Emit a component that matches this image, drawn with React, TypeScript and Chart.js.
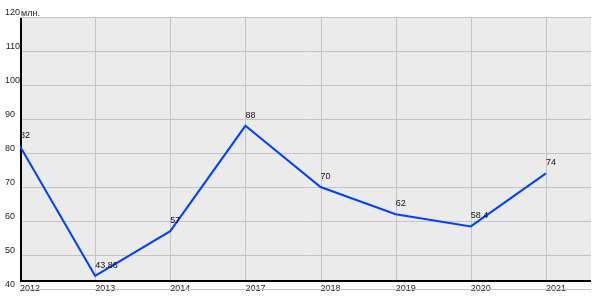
import React, { useEffect, useRef } from "react";
import { Chart, registerables } from "chart.js";

Chart.register(...registerables);

const CATEGORIES = ["2012", "2013", "2014", "2017", "2018", "2019", "2020", "2021"];
const VALUES = [82, 43.86, 57, 88, 70, 62, 58.4, 74];
const Y_MIN = 40;
const Y_MAX = 120;
const Y_STEP = 10;
const X_MAX = 7.6;
const UNIT_LABEL = "млн.";

const FONT_FAMILY = "'Liberation Sans', Arial, sans-serif";
const BG = "#ebebeb";
const GRID = "#c4c4c4";
const LINE = "rgb(0, 64, 255)";

const framePlugin = {
  id: "frame",
  beforeDatasetsDraw(chart: any) {
    const { ctx, chartArea, scales } = chart;
    const { left, right, top, bottom } = chartArea;
    const plotBottom = bottom - 9;
    ctx.save();
    ctx.fillStyle = BG;
    ctx.fillRect(left, top, right - left, plotBottom - top);
    ctx.strokeStyle = GRID;
    ctx.lineWidth = 1;
    for (let v = Y_MIN; v <= Y_MAX; v += Y_STEP) {
      const y = Math.round(scales.y.getPixelForValue(v)) + 0.5;
      ctx.beginPath();
      ctx.moveTo(left, y);
      ctx.lineTo(right, y);
      ctx.stroke();
    }
    CATEGORIES.forEach((_, i) => {
      const x = Math.round(scales.x.getPixelForValue(i)) + 0.5;
      ctx.beginPath();
      ctx.moveTo(x, top);
      ctx.lineTo(x, plotBottom);
      ctx.stroke();
    });
    ctx.strokeStyle = "#000";
    ctx.lineWidth = 2;
    ctx.beginPath();
    ctx.moveTo(left + 1, top + 1);
    ctx.lineTo(left + 1, plotBottom + 1);
    ctx.lineTo(right, plotBottom + 1);
    ctx.stroke();
    ctx.fillStyle = "#222";
    ctx.font = `9px ${FONT_FAMILY}`;
    ctx.textAlign = "left";
    ctx.textBaseline = "alphabetic";
    ctx.fillText(UNIT_LABEL, left + 1, top - 1);
    ctx.restore();
  },
  afterDatasetsDraw(chart: any) {
    const { ctx } = chart;
    const meta = chart.getDatasetMeta(0);
    ctx.save();
    ctx.fillStyle = "#111";
    ctx.font = `9px ${FONT_FAMILY}`;
    ctx.textAlign = "left";
    ctx.textBaseline = "alphabetic";
    meta.data.forEach((pt: any, i: number) => {
      ctx.fillText(String(VALUES[i]), pt.x, pt.y - 8);
    });
    ctx.restore();
  },
};

export default function App() {
  const ref = useRef<HTMLCanvasElement | null>(null);
  useEffect(() => {
    if (!ref.current) return;
    const chart = new Chart(ref.current, {
      type: "line",
      data: {
        datasets: [
          {
            data: VALUES.map((v, i) => ({ x: i, y: v })),
            borderColor: LINE,
            borderWidth: 2,
            pointRadius: 0,
            tension: 0,
            fill: false,
          },
        ],
      },
      options: {
        responsive: false,
        animation: false,
        layout: { padding: { top: 17, right: 9, left: 0, bottom: 0 } },
        plugins: { legend: { display: false }, tooltip: { enabled: false } },
        scales: {
          x: {
            type: "linear",
            min: 0,
            max: X_MAX,
            grid: { display: false, drawTicks: false },
            border: { display: false },
            afterFit: (s: any) => {
              s.height = 11;
            },
            ticks: {
              stepSize: 1,
              includeBounds: false,
              autoSkip: false,
              maxRotation: 0,
              align: "start",
              mirror: true,
              padding: -5,
              color: "#222",
              font: { size: 9, family: FONT_FAMILY },
              callback: (v: any) =>
                Number.isInteger(v) && CATEGORIES[v] !== undefined ? CATEGORIES[v] : "",
            },
          },
          y: {
            min: Y_MIN,
            max: Y_MAX,
            grid: { display: false, drawTicks: false },
            border: { display: false },
            afterFit: (s: any) => {
              s.width = 20;
            },
            ticks: {
              stepSize: Y_STEP,
              padding: 0,
              labelOffset: -4,
              color: "#222",
              font: { size: 9, family: FONT_FAMILY },
              callback: (v: any) => (v >= 100 ? String(v) : String(v) + "\u2007"),
            },
          },
        },
      },
      plugins: [framePlugin],
    });
    return () => chart.destroy();
  }, []);
  return (
    <div style={{ position: "absolute", left: 0, top: 0, width: 600, height: 300, background: "#fff" }}>
      <canvas ref={ref} width={600} height={300} style={{ display: "block" }} />
    </div>
  );
}
